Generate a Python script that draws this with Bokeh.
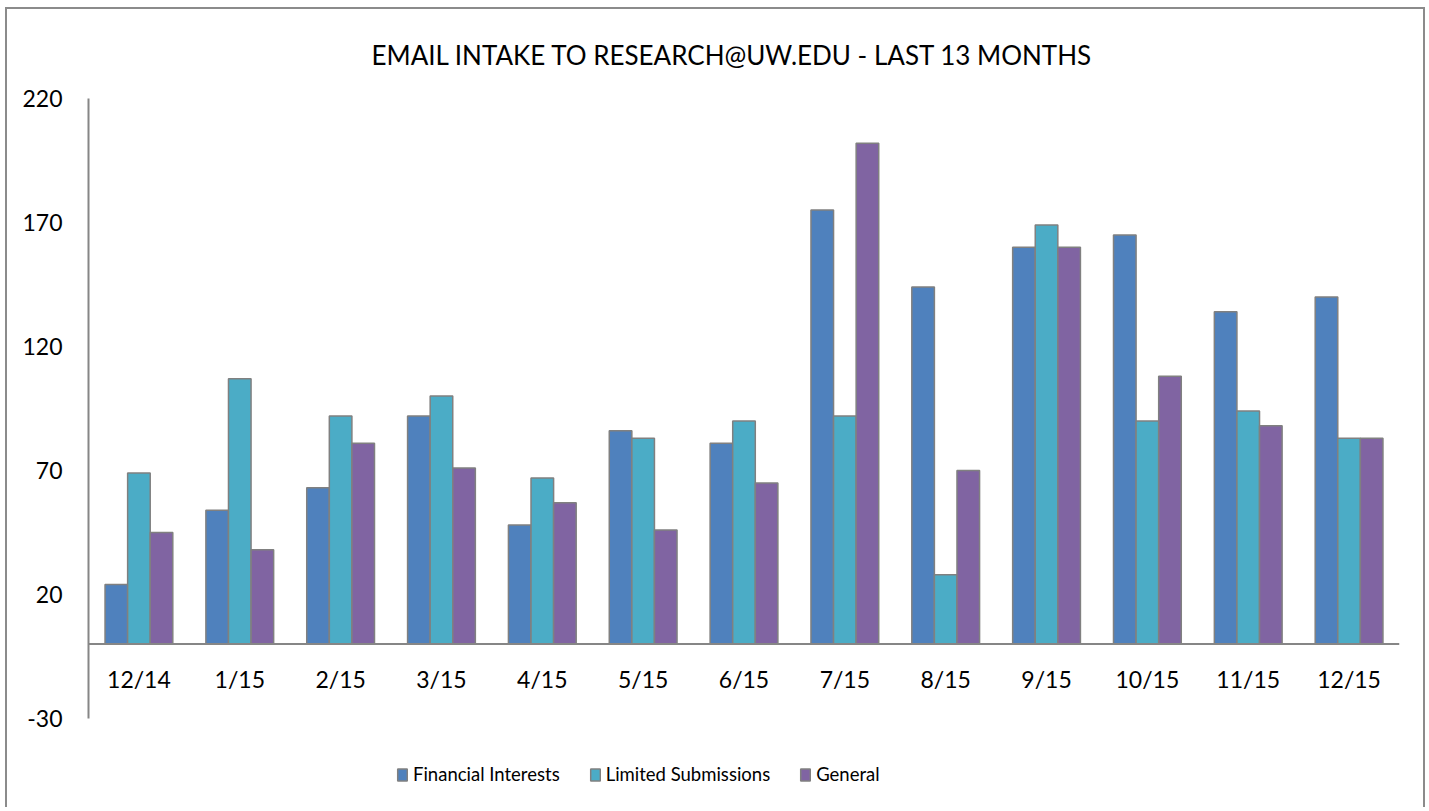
from bokeh.plotting import figure
from bokeh.models import ColumnDataSource, FactorRange, Range1d, FixedTicker, Legend, LegendItem, Span
from bokeh.transform import dodge
from bokeh.core.properties import value
from bokeh.embed import file_html
from bokeh.resources import INLINE

months = ["12/14", "1/15", "2/15", "3/15", "4/15", "5/15", "6/15",
          "7/15", "8/15", "9/15", "10/15", "11/15", "12/15"]
financial_interests = [24, 54, 63, 92, 48, 86, 81, 175, 144, 160, 165, 134, 140]
limited_submissions = [69, 107, 92, 100, 67, 83, 90, 92, 28, 169, 90, 94, 83]
general = [45, 38, 81, 71, 57, 46, 65, 202, 70, 160, 108, 88, 83]
y_ticks = [-30, 20, 70, 120, 170, 220]

series_names = ["Financial Interests", "Limited Submissions", "General"]
series_cols = ["fi", "ls", "gen"]
colors = ["#4F81BD", "#4BACC6", "#8064A2"]

src = ColumnDataSource(dict(month=months, fi=financial_interests,
                            ls=limited_submissions, gen=general,
                            zero=[0] * len(months)))

FONT = "Lato"
LBL = "23px"
AXIS_GRAY = "#868686"

# frame: 711 px tall, 250 units (-30..220) over 620 px
y_top = y_ticks[-1]
y_bottom = y_top - 711 / (620 / (y_ticks[-1] - y_ticks[0]))

p = figure(x_range=FactorRange(*months), y_range=Range1d(y_bottom, y_top),
           width=1420, height=800, output_backend="svg", toolbar_location=None,
           x_axis_location=None,
           min_border_left=81, min_border_right=28, min_border_top=89,
           min_border_bottom=0)

p.styles = {"border-top": "2px solid #8b8b8b", "border-left": "2px solid #8b8b8b",
            "border-right": "2px solid #8b8b8b", "margin-left": "5px", "margin-top": "7px"}

p.title.text = "EMAIL INTAKE TO RESEARCH@UW.EDU - LAST 13 MONTHS"
p.title.align = "left"
p.title.offset = 283
p.title.text_font = FONT
p.title.text_font_size = "26px"
p.title.text_font_style = "normal"
p.title.text_color = "#000000"
p.title.standoff = 55

# zero line acting as the category axis
p.add_layout(Span(location=0, dimension="width", line_color=AXIS_GRAY, line_width=2))

bw = 0.224
items = []
for i, (col, name, c) in enumerate(zip(series_cols, series_names, colors)):
    r = p.vbar(x=dodge("month", (i - 1) * bw, range=p.x_range), top=col, width=bw,
               source=src, fill_color=c, line_color="#808080", line_width=1.5)
    items.append(LegendItem(label=name, renderers=[r]))

# category labels under the zero line
p.text(x="month", y="zero", text="month", source=src, y_offset=35,
       text_align="center", text_baseline="middle", text_font=value(FONT),
       text_font_size=LBL, text_color="#000000")

legend = Legend(items=items, orientation="horizontal", location=(308, 24),
                glyph_width=12, glyph_height=15, label_standoff=5, spacing=29,
                padding=0, margin=0, border_line_color=None, background_fill_alpha=0,
                label_text_font=FONT, label_text_font_size="18.5px",
                label_text_color="#000000")
p.add_layout(legend, "center")

p.xgrid.visible = False
p.ygrid.visible = False
p.outline_line_color = None

p.yaxis.ticker = FixedTicker(ticks=y_ticks)
p.yaxis.major_label_overrides = {t: str(t) for t in y_ticks}
p.yaxis.bounds = (y_ticks[0], y_ticks[-1])
p.yaxis.major_tick_line_color = None
p.yaxis.minor_tick_line_color = None
p.yaxis.major_tick_out = 0
p.yaxis.major_tick_in = 0
p.yaxis.axis_line_color = AXIS_GRAY
p.yaxis.axis_line_width = 2
p.yaxis.major_label_standoff = 26
p.yaxis.major_label_text_font = FONT
p.yaxis.major_label_text_font_size = LBL
p.yaxis.major_label_text_color = "#000000"

open("out.html", "w").write(file_html(p, INLINE))
